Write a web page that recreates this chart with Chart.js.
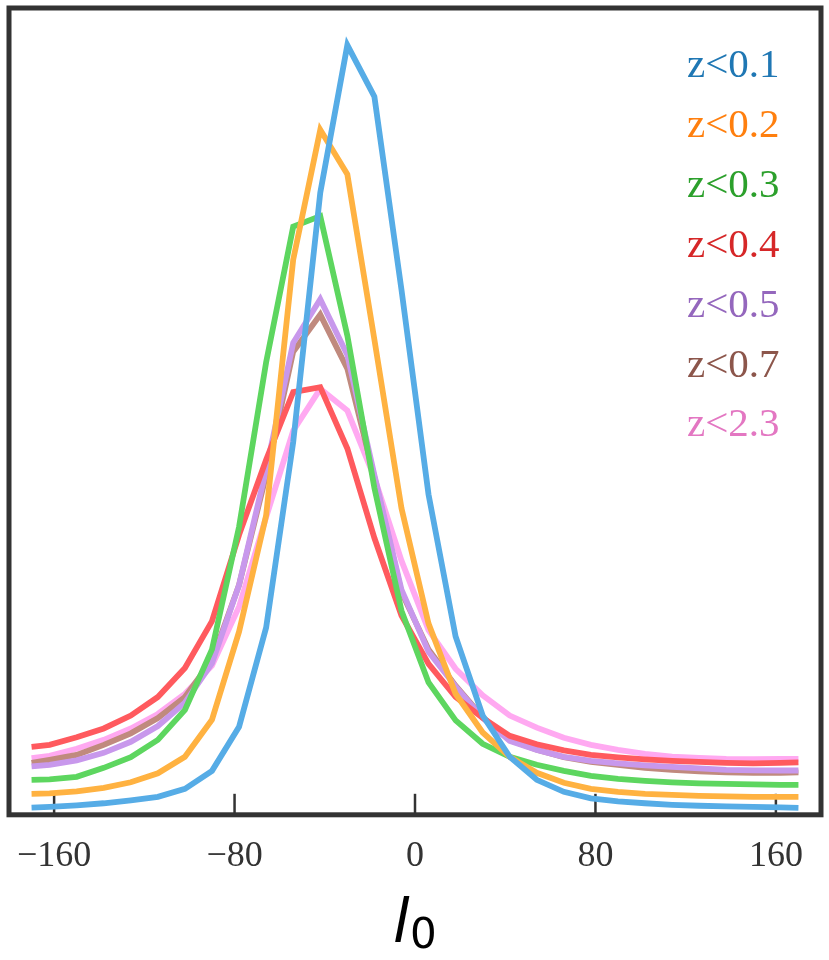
<!DOCTYPE html>
<html>
<head>
<meta charset="utf-8">
<script src="https://cdn.jsdelivr.net/npm/chart.js@4.4.0/dist/chart.umd.min.js"></script>
<style>
  html, body { margin: 0; padding: 0; background: #fff; }
  #wrap { width: 829px; height: 960px; }
</style>
</head>
<body>
<div id="wrap"><canvas id="profile" width="829" height="960"></canvas></div>
<script>
// l0 sample positions (degrees)
const l0 = [-170, -162, -150, -138, -126, -114, -102, -90, -78, -66, -54, -42, -30, -18, -6,
            6, 18, 30, 42, 54, 66, 78, 90, 102, 114, 126, 138, 150, 162, 170];

// curve heights (arbitrary units, 0 = bottom of frame, 100 = top)
const z01 = [0.90, 0.99, 1.18, 1.43, 1.80, 2.23, 3.22, 5.45, 10.9, 23.2, 46.2, 77.1, 95.4, 89.0, 65.1,
             39.7, 22.1, 12.3, 7.19, 4.34, 2.85, 2.04, 1.67, 1.43, 1.24, 1.12, 1.05, 0.99, 0.93, 0.87];
const z02 = [2.60, 2.66, 2.91, 3.35, 4.03, 5.14, 7.19, 11.8, 22.7, 37.1, 68.8, 84.9, 79.4, 58.9, 38.0,
             23.7, 15.0, 10.2, 7.19, 5.20, 3.97, 3.22, 2.85, 2.60, 2.48, 2.35, 2.29, 2.23, 2.23, 2.23];
const z03 = [4.34, 4.40, 4.71, 5.82, 7.13, 9.29, 13.0, 20.5, 35.7, 56.1, 72.9, 74.2, 59.4, 40.5, 25.3,
             16.4, 11.7, 8.80, 7.19, 6.20, 5.45, 4.83, 4.46, 4.21, 4.03, 3.90, 3.84, 3.78, 3.72, 3.72];
const z04 = [8.43, 8.67, 9.60, 10.7, 12.3, 14.6, 18.2, 24.0, 34.7, 44.0, 52.4, 53.0, 45.4, 34.3, 24.7,
             18.7, 14.6, 12.0, 9.79, 8.74, 7.99, 7.43, 7.12, 6.88, 6.69, 6.57, 6.44, 6.38, 6.44, 6.51];
const z05 = [5.99, 6.20, 6.75, 7.68, 9.05, 11.0, 13.9, 18.8, 28.5, 42.8, 58.5, 63.9, 57.0, 42.1, 27.9,
             20.2, 15.9, 12.0, 9.17, 8.05, 7.19, 6.69, 6.38, 6.13, 5.95, 5.76, 5.58, 5.51, 5.49, 5.49];
const z07 = [6.44, 6.82, 7.43, 8.67, 10.1, 12.0, 14.6, 19.2, 28.5, 42.1, 57.4, 62.0, 55.3, 41.8, 27.6,
             20.5, 16.0, 12.1, 9.29, 8.05, 7.13, 6.57, 6.20, 5.82, 5.58, 5.39, 5.27, 5.20, 5.20, 5.27];
const z23 = [7.03, 7.31, 8.18, 9.29, 10.7, 12.5, 15.0, 18.5, 25.8, 36.9, 47.6, 52.8, 50.1, 41.8, 31.5,
             22.9, 18.1, 14.8, 12.3, 10.8, 9.54, 8.67, 8.05, 7.56, 7.22, 7.06, 6.94, 6.90, 6.94, 6.94];

const seriesNames = ["z<0.1", "z<0.2", "z<0.3", "z<0.4", "z<0.5", "z<0.7", "z<2.3"];
const seriesData = [z01, z02, z03, z04, z05, z07, z23];
const lineColors = ["#56ace6", "#ffb241", "#5dd65f", "#ff5a5e", "#c898ec", "#c08a7e", "#ffa9f1"];
const textColors = ["#1f77b4", "#ff7f0e", "#2ca02c", "#d62728", "#9467bd", "#8c564b", "#e377c2"];
const tickValues = [-160, -80, 0, 80, 160];

const datasets = seriesData.map((vals, i) => ({
  label: seriesNames[i],
  data: vals.map((v, j) => ({ x: l0[j], y: v })),
  borderColor: lineColors[i],
  borderWidth: 5.8,
  pointRadius: 0,
  tension: 0,
  fill: false
}));

// frame, inward ticks, text legend and axis title
const decorations = {
  id: "decorations",
  beforeDatasetsDraw(chart) {
    const { ctx, chartArea, scales } = chart;
    ctx.save();
    ctx.strokeStyle = "#333";
    ctx.lineWidth = 2.5;
    tickValues.forEach(v => {
      const x = scales.x.getPixelForValue(v);
      ctx.beginPath();
      ctx.moveTo(x, chartArea.bottom);
      ctx.lineTo(x, chartArea.bottom - 21);
      ctx.stroke();
    });
    ctx.restore();
  },
  afterDraw(chart) {
    const { ctx, chartArea } = chart;
    ctx.save();
    ctx.strokeStyle = "#333";
    ctx.lineWidth = 5;
    ctx.strokeRect(chartArea.left, chartArea.top, chartArea.right - chartArea.left, chartArea.bottom - chartArea.top);

    ctx.font = "41px 'Liberation Serif'";
    ctx.textAlign = "left";
    ctx.textBaseline = "alphabetic";
    seriesNames.forEach((name, i) => {
      ctx.fillStyle = textColors[i];
      ctx.fillText(name, 687, 77 + i * 59.9);
    });

    ctx.fillStyle = "#000";
    ctx.font = "italic 60px 'DejaVu Sans'";
    ctx.fillText("l", 393, 942);
    ctx.font = "42px 'DejaVu Sans'";
    ctx.fillText("0", 410, 948);
    ctx.restore();
  }
};

new Chart(document.getElementById("profile"), {
  type: "line",
  data: { datasets },
  options: {
    responsive: false,
    animation: false,
    devicePixelRatio: 1,
    layout: { padding: { left: 9, right: 8, top: 8, bottom: 70 } },
    plugins: { legend: { display: false }, tooltip: { enabled: false } },
    scales: {
      x: {
        type: "linear",
        min: -180,
        max: 180,
        border: { display: false },
        grid: { display: false },
        afterBuildTicks: scale => { scale.ticks = tickValues.map(v => ({ value: v })); },
        ticks: {
          padding: 12,
          color: "#333",
          font: { family: "'Liberation Serif'", size: 36 },
          maxRotation: 0,
          callback: v => (v < 0 ? "\u2212" + Math.abs(v) : String(v))
        }
      },
      y: {
        display: false,
        min: 0,
        max: 100
      }
    }
  },
  plugins: [decorations]
});
</script>
</body>
</html>
